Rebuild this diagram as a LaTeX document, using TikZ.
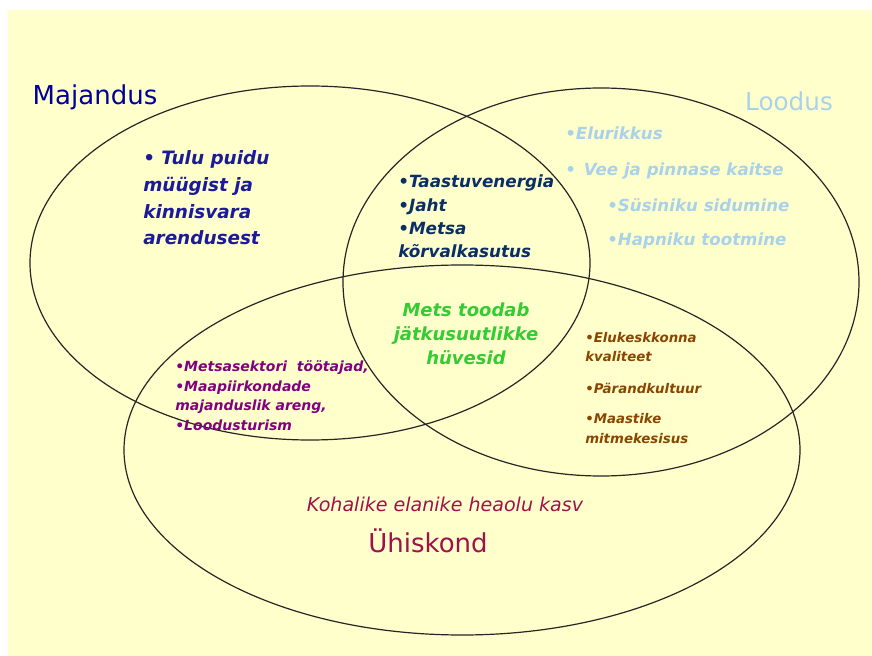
\documentclass[tikz,border=0pt]{standalone}
\usepackage{fontspec}
\setmainfont{DejaVu Sans}
\definecolor{bgyellow}{HTML}{FFFFCC}
\definecolor{navyt}{HTML}{000099}
\definecolor{tulut}{HTML}{1A1A9A}
\definecolor{taast}{HTML}{0A2E66}
\definecolor{lbluet}{HTML}{A9D2EA}
\definecolor{greent}{HTML}{33CC33}
\definecolor{purplet}{HTML}{800080}
\definecolor{brownt}{HTML}{8A4500}
\definecolor{crimsont}{HTML}{A0104A}
\begin{document}
\begin{tikzpicture}[x=0.75pt,y=-0.75pt,
  setring/.style={draw=black!85, line width=0.9pt},
  title/.style={inner sep=0pt, anchor=base},
  bul/.style={inner sep=0pt, anchor=base west, align=left},
]
\useasboundingbox (0,0) rectangle (872,656);
\fill[bgyellow] (8,10) rectangle (872,656);

% sets
\draw[setring] (310,263) ellipse [x radius=280, y radius=177];
\draw[setring] (601,282) ellipse [x radius=258, y radius=194];
\draw[setring] (462,450) ellipse [x radius=338, y radius=185];

% titles
\node[title, text=navyt, font=\fontsize{19.5}{22}\selectfont] (maj) at (95,105) {Majandus};
\node[title, text=lbluet, font=\fontsize{18.5}{22}\selectfont] (lood) at (789,111) {Loodus};
\node[title, text=crimsont, font=\fontsize{19.5}{22}\selectfont] (uhis) at (428,552) {Ühiskond};

% Majandus only
\node[bul, text=tulut, font=\bfseries\itshape\fontsize{13.8}{20.2}\selectfont] (tulu) at (143,245)
  {• Tulu puidu\\müügist ja\\kinnisvara\\arendusest};

% Majandus & Loodus
\node[bul, text=taast, font=\bfseries\itshape\fontsize{12.6}{17.6}\selectfont] (taastu) at (398,258)
  {•Taastuvenergia\\•Jaht\\•Metsa\\kõrvalkasutus};

% Loodus only
\node[bul, text=lbluet, font=\bfseries\itshape\fontsize{12.5}{16}\selectfont] (elur) at (565,140) {•Elurikkus};
\node[bul, text=lbluet, font=\bfseries\itshape\fontsize{12.5}{16}\selectfont] (vee) at (565,176) {•\hspace{6pt}Vee ja pinnase kaitse};
\node[bul, text=lbluet, font=\bfseries\itshape\fontsize{12.5}{16}\selectfont] (sus) at (607,212) {•Süsiniku sidumine};
\node[bul, text=lbluet, font=\bfseries\itshape\fontsize{12.5}{16}\selectfont] (hap) at (607,246) {•Hapniku tootmine};

% centre
\node[inner sep=0pt, anchor=base, align=center, text=greent, font=\bfseries\itshape\fontsize{13.5}{18}\selectfont] (mets) at (466,364)
  {Mets toodab\\jätkusuutlikke\\hüvesid};

% Majandus & Ühiskond
\node[bul, text=purplet, font=\bfseries\itshape\fontsize{10.5}{14.6}\selectfont] (metsas) at (175,430)
  {•Metsasektori\ \ töötajad,\\•Maapiirkondade\\majanduslik areng,\\•Loodusturism};

% Loodus & Ühiskond
\node[bul, text=brownt, font=\bfseries\itshape\fontsize{10}{14.3}\selectfont] (eluk) at (585,362)
  {•Elukeskkonna\\kvaliteet};
\node[bul, text=brownt, font=\bfseries\itshape\fontsize{10}{14.3}\selectfont] (parand) at (585,393)
  {•Pärandkultuur};
\node[bul, text=brownt, font=\bfseries\itshape\fontsize{10}{14.3}\selectfont] (maast) at (585,443)
  {•Maastike\\mitmekesisus};

% Ühiskond
\node[inner sep=0pt, anchor=base, text=crimsont, font=\itshape\fontsize{14.3}{18}\selectfont] (kohal) at (445,511)
  {Kohalike elanike heaolu kasv};
\end{tikzpicture}
\end{document}
